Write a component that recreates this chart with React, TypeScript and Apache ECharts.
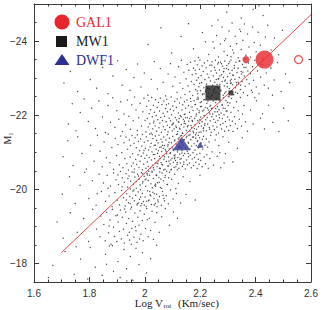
import React, { useEffect, useRef } from "react";
import * as echarts from "echarts";

// Galaxy sample, encoded as pairs [logV*1000, M_I*100], grouped by magnitude band
const band18 = [1652,-1762,1668,-1795,1712,-1832,1745,-1771,1768,-1812,1794,-1758,1803,-1843,1821,-1790,1846,-1768,1858,-1825,1872,-1847,1887,-1779,1903,-1805,1911,-1762,1925,-1838,1934,-1786,1948,-1819,1957,-1755,1968,-1841,1979,-1797,1992,-1829,2006,-1774,2021,-1813,2043,-1849,1883,-1848,1752,-1845,1935,-1753,1862,-1798];
const band19 = [1683,-1912,1705,-1868,1731,-1937,1756,-1884,1779,-1921,1797,-1859,1812,-1946,1826,-1893,1838,-1872,1841,-1928,1852,-1905,1857,-1861,1863,-1938,1869,-1883,1874,-1917,1878,-1852,1883,-1946,1887,-1898,1891,-1873,1896,-1929,1899,-1859,1904,-1912,1908,-1887,1912,-1944,1915,-1866,1919,-1925,1923,-1892,1926,-1855,1931,-1939,1934,-1908,1938,-1876,1942,-1921,1945,-1863,1949,-1947,1953,-1895,1956,-1914,1961,-1871,1964,-1936,1968,-1888,1972,-1857,1975,-1925,1979,-1903,1983,-1942,1986,-1879,1991,-1916,1994,-1861,1998,-1933,2003,-1894,2007,-1948,2012,-1872,2016,-1922,2021,-1889,2026,-1941,2031,-1865,2037,-1911,2043,-1937,2052,-1884,2061,-1926,2074,-1948,2089,-1903,2103,-1939,2118,-1922,1951,-1852,1927,-1947,1966,-1899,1901,-1931,1981,-1866,2009,-1918,1944,-1884,1871,-1901];
const band20 = [1702,-1987,1728,-2034,1749,-1962,1766,-2011,1783,-2046,1798,-1975,1811,-2023,1824,-1957,1835,-2041,1843,-1994,1851,-2017,1858,-1968,1864,-2038,1871,-1982,1876,-2009,1882,-1953,1887,-2044,1892,-1991,1896,-2026,1901,-1971,1905,-2013,1909,-1958,1912,-2048,1916,-1997,1919,-2031,1923,-1977,1926,-2019,1929,-1955,1932,-2042,1935,-1988,1938,-2006,1941,-1964,1943,-2036,1946,-1981,1949,-2022,1952,-1952,1954,-2047,1957,-1995,1959,-2014,1962,-1969,1964,-2033,1967,-1984,1969,-2003,1972,-1958,1974,-2041,1976,-1993,1979,-2027,1981,-1973,1983,-2012,1986,-1956,1988,-2045,1991,-1989,1993,-2021,1995,-1967,1998,-2035,2001,-1979,2003,-2008,2005,-1954,2008,-2043,2010,-1996,2012,-2024,2015,-1971,2017,-2038,2019,-1985,2022,-2015,2024,-1959,2026,-2049,2029,-1992,2031,-2029,2033,-1975,2036,-2011,2038,-1962,2041,-2039,2043,-1987,2046,-2018,2048,-1966,2051,-2032,2053,-1981,2056,-2005,2059,-1957,2062,-2044,2064,-1994,2067,-2023,2071,-1969,2074,-2037,2077,-1983,2081,-2013,2085,-1961,2089,-2046,2093,-1998,2097,-2027,2102,-1974,2108,-2041,2114,-1989,2121,-2016,2129,-1963,2138,-2034,2149,-1986,2163,-2021,2182,-1971,1947,-1961,1961,-2046,1984,-1999,2007,-1968,2027,-2004,2044,-1953,2058,-2028,1993,-2042,1973,-1961,2014,-2049,1939,-2029,2034,-1958,2069,-1976,1918,-2007,2086,-2031,1956,-1976,2001,-2026,2039,-2014,1977,-2036,2021,-1983,1867,-2003,1828,-1988,2199,-2038,2112,-2002,1903,-2039,1948,-2001,2054,-2047,1989,-1962,2079,-2049,1933,-1971];
const band21 = [1705,-2088,1722,-2131,1741,-2064,1758,-2142,1773,-2097,1789,-2055,1804,-2119,1817,-2076,1829,-2146,1838,-2103,1846,-2061,1853,-2128,1861,-2085,1868,-2149,1874,-2072,1881,-2113,1887,-2054,1893,-2137,1898,-2091,1903,-2121,1908,-2066,1913,-2144,1917,-2099,1921,-2058,1925,-2126,1928,-2083,1932,-2141,1935,-2069,1938,-2108,1941,-2052,
1944,-2133,1947,-2087,1949,-2118,1952,-2063,1954,-2145,1956,-2096,1958,-2071,1961,-2124,1963,-2055,1965,-2139,1967,-2081,1969,-2112,1971,-2067,1973,-2147,1975,-2093,1977,-2129,1979,-2059,1981,-2104,1983,-2076,1985,-2136,1987,-2089,1989,-2117,1991,-2053,1992,-2148,1994,-2098,1996,-2068,1998,-2127,2000,-2084,2002,-2111,2004,-2057,2005,-2142,2007,-2092,2009,-2074,2011,-2131,2012,-2062,2014,-2106,2016,-2086,2018,-2149,2019,-2115,2021,-2058,2023,-2124,2024,-2079,2026,-2101,2028,-2065,2029,-2137,2031,-2094,2033,-2053,2034,-2119,2036,-2083,2038,-2144,2039,-2071,2041,-2108,2043,-2132,2044,-2061,2046,-2097,2048,-2125,2049,-2077,2051,-2146,2053,-2089,2054,-2113,2056,-2056,2058,-2135,2059,-2072,2061,-2102,2063,-2128,2064,-2066,2066,-2091,2068,-2141,2069,-2081,2071,-2118,2073,-2054,2074,-2107,2076,-2133,2078,-2075,2079,-2096,2081,-2147,2083,-2063,2084,-2121,2086,-2087,2088,-2109,2089,-2138,2091,-2069,2093,-2099,2094,-2052,2096,-2126,2098,-2084,2099,-2114,2101,-2143,2103,-2073,2104,-2105,2106,-2059,2108,-2131,2109,-2093,2111,-2078,2113,-2122,2114,-2148,2116,-2067,2118,-2101,2119,-2086,2121,-2136,2123,-2057,2124,-2116,2126,-2095,2128,-2071,2129,-2129,2131,-2083,2133,-2145,2134,-2104,2136,-2062,2138,-2119,2139,-2091,2141,-2074,2143,-2134,2144,-2097,2146,-2055,2148,-2112,2149,-2139,2151,-2079,2153,-2103,2154,-2066,2156,-2127,2158,-2088,2159,-2146,2161,-2071,2163,-2109,2164,-2092,2166,-2134,2168,-2058,2169,-2117,2171,-2082,2173,-2141,2174,-2099,2176,-2064,2178,-2123,2179,-2086,2181,-2106,2183,-2147,2184,-2073,2186,-2118,2188,-2094,2189,-2056,2191,-2131,2193,-2081,2194,-2112,2196,-2068,2198,-2139,2199,-2097,2202,-2078,2204,-2125,2207,-2061,2209,-2108,2212,-2143,2214,-2087,2217,-2119,2219,-2069,2222,-2136,2224,-2093,2227,-2114,2229,-2057,2232,-2128,2235,-2083,2238,-2146,1997,-2105,2047,-2069,2087,-2127,2117,-2053,2157,-2097,2027,-2148,2067,-2111,2107,-2083,
2243,-2101,2248,-2065,2254,-2133,2261,-2089,2267,-2118,2274,-2058,2282,-2142,2291,-2096,2303,-2127,2318,-2074,2334,-2111,2352,-2139,2271,-2099,2258,-2147,2286,-2071];
const band22 = [1724,-2176,1738,-2231,1752,-2158,1767,-2207,1781,-2244,1796,-2183,1808,-2219,1822,-2164,1834,-2238,1847,-2195,1858,-2153,1867,-2226,1876,-2181,1884,-2247,1892,-2167,1899,-2212,1906,-2189,1913,-2236,1919,-2156,1925,-2203,1931,-2174,1937,-2241,1942,-2197,1948,-2162,1953,-2228,1958,-2185,1963,-2249,1968,-2214,1973,-2159,1978,-2193,1983,-2232,1988,-2171,1993,-2209,1997,-2246,2001,-2186,
2004,-2155,2007,-2224,2009,-2191,2012,-2168,2014,-2239,2016,-2204,2018,-2177,2021,-2215,2023,-2152,2025,-2248,2027,-2196,2029,-2163,2031,-2227,2033,-2184,2035,-2208,2037,-2171,2039,-2242,2041,-2199,2043,-2157,2045,-2221,2047,-2188,2049,-2235,2051,-2166,2053,-2211,2054,-2179,2056,-2246,2058,-2194,2060,-2154,2062,-2229,2064,-2186,2066,-2205,2067,-2169,2069,-2238,2071,-2197,2073,-2161,2075,-2218,2077,-2182,2079,-2243,2081,-2173,2082,-2209,2084,-2155,2086,-2231,2088,-2192,2090,-2167,2092,-2216,2093,-2185,2095,-2249,2097,-2201,2099,-2158,2101,-2225,2103,-2178,2104,-2212,2106,-2163,2108,-2237,2110,-2194,2112,-2171,2114,-2221,2115,-2187,2117,-2244,2119,-2156,2121,-2206,2123,-2181,2125,-2233,2126,-2165,2128,-2199,2130,-2247,2132,-2175,2134,-2214,2136,-2152,2137,-2228,2139,-2189,2141,-2168,2143,-2236,2145,-2203,2147,-2177,2148,-2219,2150,-2159,2152,-2241,2154,-2193,2156,-2172,2158,-2226,2159,-2184,2161,-2208,2163,-2157,2165,-2245,2167,-2196,2169,-2166,2170,-2222,2172,-2183,2174,-2213,2176,-2153,2178,-2239,2180,-2191,2181,-2174,2183,-2229,2185,-2198,2187,-2162,2189,-2217,2191,-2186,2192,-2248,2194,-2169,2196,-2207,2198,-2178,2200,-2234,2202,-2195,2203,-2155,2205,-2224,2207,-2182,2209,-2211,2211,-2164,2213,-2242,2214,-2199,2216,-2173,2218,-2221,2220,-2188,2222,-2158,2224,-2232,2225,-2194,2227,-2176,2229,-2214,2231,-2249,2233,-2167,2235,-2203,2236,-2185,2238,-2227,2240,-2154,2242,-2196,2244,-2219,2246,-2171,2247,-2238,2249,-2189,2251,-2161,2253,-2209,2255,-2181,2257,-2244,2258,-2198,2260,-2168,2262,-2223,2264,-2186,2266,-2152,2268,-2215,2269,-2193,2271,-2236,2273,-2174,2275,-2206,2277,-2163,2279,-2229,2280,-2191,2282,-2178,2284,-2247,2286,-2201,2288,-2157,2290,-2218,2291,-2183,2293,-2239,2295,-2169,2297,-2211,2299,-2195,2301,-2226,2303,-2159,2305,-2187,2307,-2233,2309,-2172,2311,-2208,2313,-2245,2316,-2184,2318,-2156,2321,-2221,2324,-2196,2327,-2177,2331,-2236,2334,-2164,2337,-2212,2341,-2189,2345,-2248,2349,-2171,2353,-2203,2358,-2226,2364,-2182,2371,-2157,2032,-2179,2078,-2228,2124,-2191,2166,-2237,2212,-2166,2256,-2218,2098,-2174,2142,-2202,2188,-2243,2234,-2162,
2382,-2214,2391,-2176,2403,-2239,2418,-2192,2432,-2163,2447,-2227,2462,-2181,2484,-2156,2501,-2219,2397,-2247,2425,-2204,2518,-2185];
const band23 = [1708,-2287,1731,-2318,1757,-2264,1782,-2341,1803,-2296,1826,-2273,1848,-2329,1867,-2258,1885,-2306,1902,-2347,1918,-2281,1933,-2323,1947,-2267,1961,-2302,1974,-2338,1986,-2276,1998,-2314,2011,-2254,2023,-2297,2034,-2345,2045,-2271,2056,-2326,2066,-2289,2075,-2252,2084,-2311,2093,-2339,2101,-2278,
2109,-2303,2116,-2262,2122,-2331,2127,-2287,2132,-2348,2137,-2272,2141,-2316,2145,-2256,2149,-2298,2153,-2337,2156,-2279,2159,-2321,2162,-2264,2165,-2343,2168,-2291,2171,-2309,2173,-2253,2176,-2327,2178,-2283,2181,-2346,2183,-2269,2185,-2312,2187,-2294,2189,-2336,2191,-2258,2193,-2301,2195,-2277,2197,-2324,2199,-2349,2201,-2266,2203,-2307,2205,-2288,2207,-2333,2209,-2255,2211,-2318,2213,-2274,2215,-2341,2217,-2296,2219,-2263,2221,-2328,2223,-2284,2225,-2311,2227,-2347,2229,-2259,2231,-2302,2233,-2271,2235,-2335,2237,-2292,2239,-2319,2241,-2252,2243,-2344,2245,-2281,2247,-2306,2249,-2267,2251,-2329,2253,-2289,2255,-2348,2257,-2262,2259,-2314,2261,-2276,2263,-2338,2265,-2298,2267,-2257,2269,-2322,2271,-2283,2273,-2343,2275,-2268,2277,-2309,2279,-2291,2281,-2332,2283,-2254,2285,-2317,2287,-2279,2289,-2346,2291,-2295,2293,-2263,2295,-2326,2297,-2286,2299,-2304,2301,-2251,2303,-2339,2305,-2272,2307,-2313,2309,-2293,2311,-2349,2313,-2266,2315,-2321,2317,-2282,2319,-2308,2321,-2256,2323,-2334,2325,-2297,2327,-2274,2329,-2343,2331,-2288,2333,-2315,2335,-2259,2337,-2327,2339,-2284,2341,-2302,2343,-2346,2346,-2269,2348,-2318,2351,-2291,2353,-2337,2356,-2261,2359,-2306,2362,-2278,2365,-2329,2368,-2296,2371,-2253,2374,-2341,2377,-2285,2381,-2312,2385,-2267,2389,-2331,2393,-2294,2397,-2348,2402,-2276,2407,-2319,2412,-2258,2418,-2303,2424,-2337,2431,-2281,2438,-2314,2182,-2321,2226,-2273,2266,-2342,2312,-2287,2354,-2316,2198,-2286,2242,-2335,2284,-2302,2328,-2262,2372,-2319,2214,-2258,2258,-2296,2302,-2323,2346,-2281,2388,-2262,
2446,-2273,2455,-2327,2467,-2295,2479,-2342,2492,-2264,2508,-2311,2461,-2254,2523,-2288];
const band24 = [2012,-2391,2058,-2436,2097,-2368,2131,-2412,2158,-2447,2176,-2379,2194,-2356,2208,-2423,2219,-2398,2231,-2364,2242,-2441,2251,-2381,2259,-2415,2266,-2357,2273,-2392,2279,-2438,2286,-2372,2292,-2406,2298,-2361,2304,-2427,2309,-2386,2315,-2449,2321,-2368,2326,-2413,2332,-2393,2337,-2355,2343,-2432,2348,-2377,2354,-2402,2359,-2446,2365,-2362,2371,-2419,2376,-2384,2382,-2357,2389,-2438,2395,-2396,2402,-2371,2409,-2424,2417,-2389,2426,-2352,2435,-2411,2444,-2443,2456,-2376,2468,-2408,2483,-2363,2497,-2429,2288,-2401,2317,-2376,2346,-2426,2246,-2398,2362,-2352,2311,-2358,
2296,-2478,2348,-2462,2391,-2486,2427,-2469,2264,-2457,2412,-2495];
// Densest ridge of the relation
const ridge = [1978,-1963,2034,-1988,1992,-2017,2061,-2003,2009,-2039,1969,-2021,2047,-1971,2018,-1994,2073,-2032,1985,-1979,2026,-2046,2052,-2019,1998,-1958,2039,-2008,2066,-1984,2004,-2028,1961,-1998,2081,-2013,2014,-1969,2043,-2037,
2031,-2058,2087,-2076,2049,-2104,2106,-2091,2062,-2067,2124,-2113,2071,-2088,2038,-2119,2096,-2054,2117,-2072,2055,-2083,2083,-2117,2134,-2098,2044,-2071,2102,-2109,2068,-2052,2091,-2097,2127,-2081,2059,-2114,2112,-2061,2077,-2103,2141,-2068,2036,-2094,2094,-2079,2119,-2106,2064,-2119,2086,-2063,2109,-2087,2053,-2057,2131,-2112,
2108,-2133,2163,-2147,2127,-2162,2184,-2138,2142,-2178,2196,-2154,2118,-2149,2171,-2186,2135,-2126,2204,-2171,2152,-2143,2179,-2164,2101,-2176,2189,-2129,2147,-2193,2212,-2158,2124,-2139,2167,-2172,2137,-2151,2199,-2188,2158,-2124,2114,-2167,2176,-2141,2143,-2184,2208,-2135,2131,-2196,2186,-2152,2154,-2169,2121,-2182,2193,-2146,2162,-2191,2139,-2134,2174,-2157,2217,-2177,2128,-2144,
2186,-2203,2241,-2218,2205,-2236,2262,-2209,2224,-2251,2279,-2227,2193,-2244,2249,-2262,2213,-2214,2271,-2241,2232,-2207,2288,-2259,2201,-2223,2256,-2234,2219,-2268,2294,-2211,2237,-2247,2266,-2273,2181,-2229,2245,-2203,2228,-2238,2283,-2219,2209,-2257,2259,-2246,2196,-2212,2274,-2265,2235,-2224,2252,-2271,2217,-2242,2299,-2234,2243,-2256,2189,-2265,2268,-2201,2226,-2219,2304,-2249,
2261,-2283,2312,-2297,2284,-2318,2337,-2289,2296,-2334,2271,-2306,2323,-2327,2349,-2311,2289,-2292,2306,-2344,2254,-2321,2331,-2281,2277,-2339,2318,-2308,2358,-2329,2298,-2277,2267,-2298,2341,-2346,2309,-2286,2286,-2326];

// Highlighted objects
const gal1Big = [[2.432, -23.5]];
const gal1Small = [[2.365, -23.5]];
const gal1Open = [[2.555, -23.5]];
const mw1Big = [[2.246, -22.6]];
const mw1Small = [[2.311, -22.6]];
const dwf1Big = [[2.133, -21.23]];
const dwf1Small = [[2.2, -21.2]];
// Tully-Fisher fit
const fitLine = [[1.7, -18.3], [2.6, -24.71]];

const yMajor = [-24, -22, -20, -18];

const RED = "#e8262b";
const BLUE = "#2e3192";
const LINE_RED = "#e2494f";
const AXIS = "#3a3a3a";

function decode(arr: number[]): number[][] {
  const out: number[][] = [];
  for (let i = 0; i < arr.length; i += 2) out.push([arr[i] / 1000, arr[i + 1] / 100]);
  return out;
}

export default function App() {
  const ref = useRef<HTMLDivElement>(null);
  useEffect(() => {
    if (!ref.current) return;
    const chart = echarts.init(ref.current, undefined, { renderer: "svg" });
    const dots = [band18, band19, band20, band21, band22, band23, band24, ridge].flatMap(decode);
    const tickFont = { fontFamily: "Liberation Sans", fontSize: 10, color: "#333" };
    const xBase = {
      type: "value",
      min: 1.6,
      max: 2.6,
      interval: 0.2,
      axisLine: { show: true, onZero: false, lineStyle: { color: AXIS, width: 1 } },
      axisTick: { show: true, inside: true, length: 5, lineStyle: { color: AXIS } },
      minorTick: { show: true, splitNumber: 4, length: 2.5, lineStyle: { color: AXIS } },
      splitLine: { show: false },
      minorSplitLine: { show: false },
    };
    const yMinor = {
      type: "value",
      min: -25,
      max: -17.5,
      interval: 0.5,
      inverse: true,
      axisLine: { show: true, onZero: false, lineStyle: { color: AXIS, width: 1 } },
      axisTick: { show: true, inside: true, length: 2.5, lineStyle: { color: AXIS } },
      axisLabel: { show: false },
      splitLine: { show: false },
    };
    const yMaj = {
      type: "value",
      min: -25,
      max: -17.5,
      inverse: true,
      axisLine: { show: false },
      axisTick: { show: true, inside: true, length: 5, customValues: yMajor, lineStyle: { color: AXIS } },
      axisLabel: { show: false },
      splitLine: { show: false },
    };
    chart.setOption({
      animation: false,
      grid: { left: 34, top: 4, right: 16, bottom: 28 },
      xAxis: [
        {
          ...xBase,
          position: "bottom",
          axisLabel: { ...tickFont, margin: 6 },
        },
        { ...xBase, position: "top", axisLabel: { show: false } },
      ],
      yAxis: [
        { ...yMinor, position: "left" },
        {
          ...yMaj,
          position: "left",
          axisLabel: {
            show: true,
            ...tickFont,
            margin: 7,
            customValues: yMajor,
            formatter: (v: number) => "\u2212" + Math.abs(v),
          },
        },
        { ...yMinor, position: "right" },
        { ...yMaj, position: "right" },
      ],
      series: [
        {
          type: "scatter",
          data: dots,
          symbol: "circle",
          symbolSize: 1.3,
          itemStyle: { color: "#333", opacity: 0.9 },
          silent: true,
          z: 1,
        },
        {
          type: "line",
          data: fitLine,
          symbol: "none",
          lineStyle: { color: LINE_RED, width: 1 },
          silent: true,
          z: 2,
        },
        { type: "scatter", data: gal1Big, symbol: "circle", symbolSize: 18, itemStyle: { color: RED }, z: 3 },
        { type: "scatter", data: gal1Small, symbol: "circle", symbolSize: 7, itemStyle: { color: RED }, z: 3 },
        {
          type: "scatter",
          data: gal1Open,
          symbol: "circle",
          symbolSize: 8,
          itemStyle: { color: "#fff", borderColor: RED, borderWidth: 1.2 },
          z: 3,
        },
        { type: "scatter", data: mw1Big, symbol: "rect", symbolSize: 15, itemStyle: { color: "#1a1a1a" }, z: 3 },
        { type: "scatter", data: mw1Small, symbol: "rect", symbolSize: 5, itemStyle: { color: "#1a1a1a" }, z: 3 },
        { type: "scatter", data: dwf1Big, symbol: "triangle", symbolSize: [18, 13], itemStyle: { color: BLUE }, z: 3 },
        { type: "scatter", data: dwf1Small, symbol: "triangle", symbolSize: [7, 6], itemStyle: { color: BLUE }, z: 3 },
      ],
      graphic: [
        { type: "circle", shape: { cx: 62, cy: 22, r: 7.5 }, style: { fill: RED } },
        { type: "text", x: 76, y: 22, style: { text: "GAL1", fill: RED, font: "14px 'Liberation Serif'", verticalAlign: "middle" } },
        { type: "rect", shape: { x: 56, y: 36, width: 11, height: 11 }, style: { fill: "#1a1a1a" } },
        { type: "text", x: 76, y: 41.5, style: { text: "MW1", fill: "#1a1a1a", font: "14px 'Liberation Serif'", verticalAlign: "middle" } },
        { type: "polygon", shape: { points: [[62, 54], [69.5, 65], [54.5, 65]] }, style: { fill: BLUE } },
        { type: "text", x: 76, y: 60.5, style: { text: "DWF1", fill: BLUE, font: "14px 'Liberation Serif'", verticalAlign: "middle" } },
        // x-axis title
        { type: "text", x: 163, y: 303, style: { text: "Log V", fill: "#222", font: "11px 'Liberation Serif'", align: "right", verticalAlign: "middle" } },
        { type: "text", x: 163.5, y: 306, style: { text: "rot", fill: "#222", font: "7px 'Liberation Serif'", align: "left", verticalAlign: "middle" } },
        { type: "text", x: 178, y: 303, style: { text: "(Km/sec)", fill: "#222", font: "11px 'Liberation Serif'", align: "left", verticalAlign: "middle" } },
        // y-axis title
        { type: "text", x: 7, y: 140, rotation: Math.PI / 2, style: { text: "M", fill: "#222", font: "10px 'Liberation Serif'", align: "center", verticalAlign: "middle" } },
        { type: "text", x: 10.5, y: 134, rotation: Math.PI / 2, style: { text: "I", fill: "#222", font: "6px 'Liberation Serif'", align: "center", verticalAlign: "middle" } },
      ],
    });
    return () => chart.dispose();
  }, []);
  return <div ref={ref} style={{ position: "absolute", left: 0, top: 0, width: 327, height: 310 }} />;
}
